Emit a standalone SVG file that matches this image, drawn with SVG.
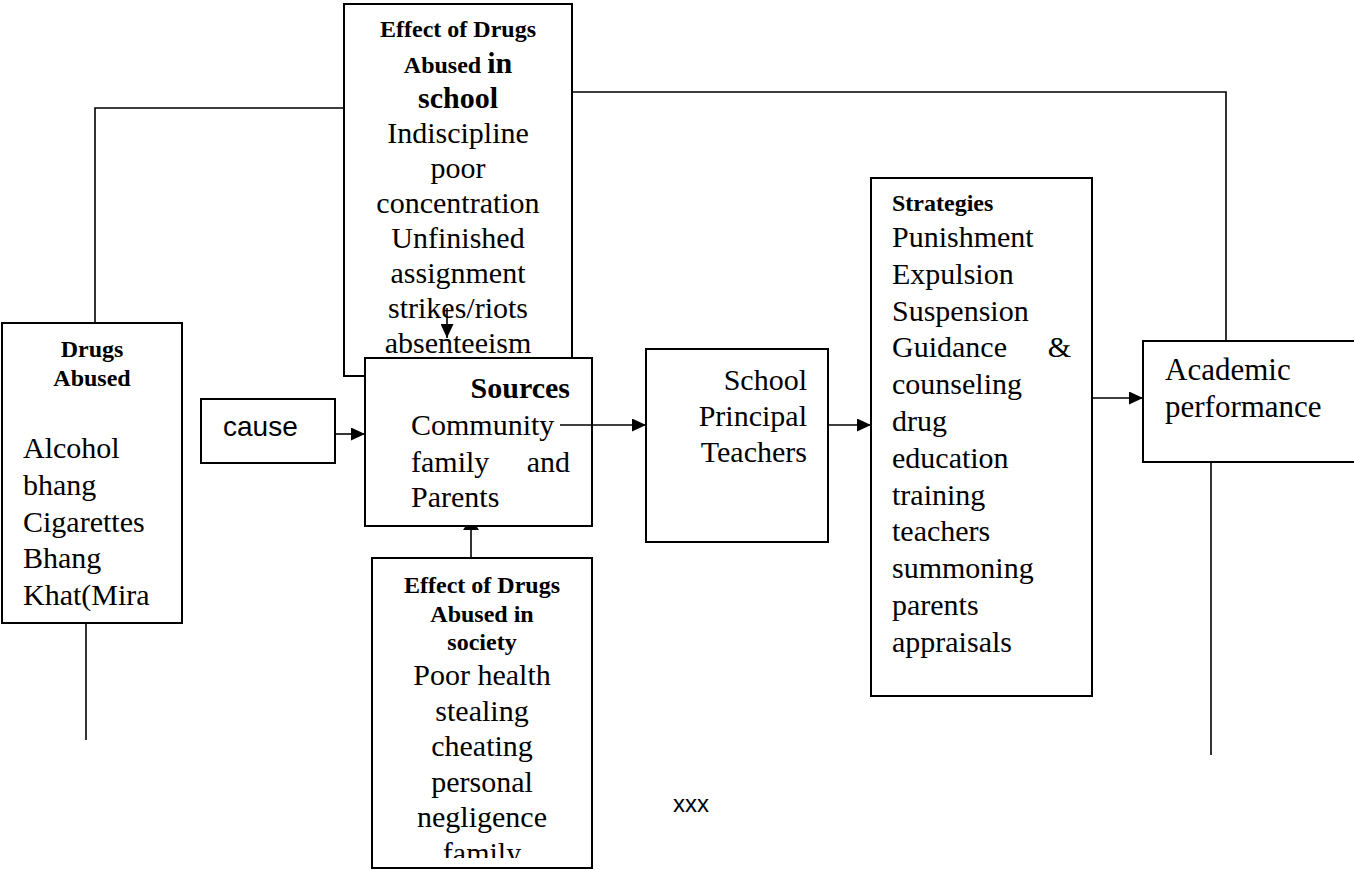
<svg xmlns="http://www.w3.org/2000/svg" width="1354" height="870" viewBox="0 0 1354 870">
<style>
.box{fill:#fff;stroke:#000;stroke-width:2}
.ln{fill:none;stroke:#000;stroke-width:1.6}
.t{font-family:"Liberation Serif","Times New Roman",serif;font-size:30px;fill:#000}
.h{font-family:"Liberation Serif","Times New Roman",serif;font-size:24px;font-weight:bold;fill:#000}
.hb{font-family:"Liberation Serif","Times New Roman",serif;font-size:30px;font-weight:bold;fill:#000}
.s{font-family:"Liberation Sans",Arial,sans-serif;fill:#000}
.c{text-anchor:middle}
.e{text-anchor:end}
</style>
<defs>
<marker id="arr" markerUnits="userSpaceOnUse" markerWidth="15" markerHeight="13" refX="14" refY="6.5" orient="auto">
<path d="M0,0 L14,6.5 L0,13 z" fill="#000"/>
</marker>
<marker id="flat" markerUnits="userSpaceOnUse" markerWidth="4" markerHeight="16" refX="3" refY="8" orient="auto">
<path d="M0,0 L3,2 L3,14 L0,16 z" fill="#000"/>
</marker>
<clipPath id="socClip"><rect x="372" y="558" width="220" height="300"/></clipPath>
</defs>

<g id="connectors">
<polyline class="ln" points="95,323 95,108 344,108"/>
<polyline class="ln" points="572,92 1226,92 1226,360"/>
<line class="ln" x1="86" y1="623" x2="86" y2="740"/>
<line class="ln" x1="1211" y1="463" x2="1211" y2="755"/>
</g>

<g id="node-effect-school">
<rect class="box" x="344" y="4" width="228" height="372"/>
<text class="h c" x="458" y="37">Effect of Drugs</text>
<text class="h c" x="458" y="73">Abused <tspan style="font-size:30px">in</tspan></text>
<text class="hb c" x="458" y="108">school</text>
<text class="t c" x="458" y="143">Indiscipline</text>
<text class="t c" x="458" y="178">poor</text>
<text class="t c" x="458" y="213">concentration</text>
<text class="t c" x="458" y="248">Unfinished</text>
<text class="t c" x="458" y="283">assignment</text>
<text class="t c" x="458" y="318">strikes/riots</text>
<text class="t c" x="458" y="353">absenteeism</text>
</g>

<g id="node-drugs">
<rect class="box" x="2" y="323" width="180" height="300"/>
<text class="h c" x="92" y="357">Drugs</text>
<text class="h c" x="92" y="386">Abused</text>
<text class="t" x="23" y="458">Alcohol</text>
<text class="t" x="23" y="494.5">bhang</text>
<text class="t" x="23" y="531.5">Cigarettes</text>
<text class="t" x="23" y="568">Bhang</text>
<text class="t" x="23" y="605">Khat(Mira</text>
</g>

<g id="node-cause">
<rect class="box" x="201" y="399" width="134" height="64"/>
<text class="s" x="223" y="436" font-size="28">cause</text>
</g>

<g id="node-sources">
<rect class="box" x="365" y="358" width="227" height="168"/>
<text class="hb e" x="570" y="398">Sources</text>
<text class="t" x="411" y="435">Community</text>
<text class="t" x="411" y="472">family</text>
<text class="t e" x="570" y="472">and</text>
<text class="t" x="411" y="507">Parents</text>
</g>

<g id="node-school">
<rect class="box" x="646" y="349" width="182" height="193"/>
<text class="t e" x="807" y="390">School</text>
<text class="t e" x="807" y="426">Principal</text>
<text class="t e" x="807" y="462">Teachers</text>
</g>

<g id="node-strategies">
<rect class="box" x="871" y="178" width="221" height="518"/>
<text class="h" x="892" y="211">Strategies</text>
<text class="t" x="892" y="247">Punishment</text>
<text class="t" x="892" y="283.8">Expulsion</text>
<text class="t" x="892" y="320.6">Suspension</text>
<text class="t" x="892" y="357.4">Guidance</text>
<text class="t e" x="1071" y="357.4">&amp;</text>
<text class="t" x="892" y="394.2">counseling</text>
<text class="t" x="892" y="431">drug</text>
<text class="t" x="892" y="467.8">education</text>
<text class="t" x="892" y="504.6">training</text>
<text class="t" x="892" y="541.4">teachers</text>
<text class="t" x="892" y="578.2">summoning</text>
<text class="t" x="892" y="615">parents</text>
<text class="t" x="892" y="651.8">appraisals</text>
</g>

<g id="node-academic">
<rect class="box" x="1143" y="341" width="220" height="121"/>
<text class="t" x="1165" y="380" style="font-size:31px">Academic</text>
<text class="t" x="1165" y="417" style="font-size:31px">performance</text>
</g>

<g id="node-society">
<rect class="box" x="372" y="558" width="220" height="310"/>
<g clip-path="url(#socClip)">
<text class="h c" x="482" y="593">Effect of Drugs</text>
<text class="h c" x="482" y="622">Abused in</text>
<text class="h c" x="482" y="650">society</text>
<text class="t c" x="482" y="685">Poor health</text>
<text class="t c" x="482" y="720.5">stealing</text>
<text class="t c" x="482" y="756">cheating</text>
<text class="t c" x="482" y="791.5">personal</text>
<text class="t c" x="482" y="827">negligence</text>
<text class="t c" x="482" y="862.5">family</text>
</g>
</g>

<g id="label-xxx">
<text class="s" x="673" y="812" font-size="24">xxx</text>
</g>

<g id="arrows">
<line class="ln" x1="447" y1="308" x2="447" y2="338" marker-end="url(#arr)"/>
<line class="ln" x1="335" y1="434" x2="365" y2="434" marker-end="url(#arr)"/>
<line class="ln" x1="560" y1="425" x2="646" y2="425" marker-end="url(#arr)"/>
<line class="ln" x1="828" y1="425" x2="871" y2="425" marker-end="url(#arr)"/>
<line class="ln" x1="1092" y1="398" x2="1143" y2="398" marker-end="url(#arr)"/>
<line class="ln" x1="471" y1="558" x2="471" y2="527" marker-end="url(#flat)"/>
</g>
</svg>
